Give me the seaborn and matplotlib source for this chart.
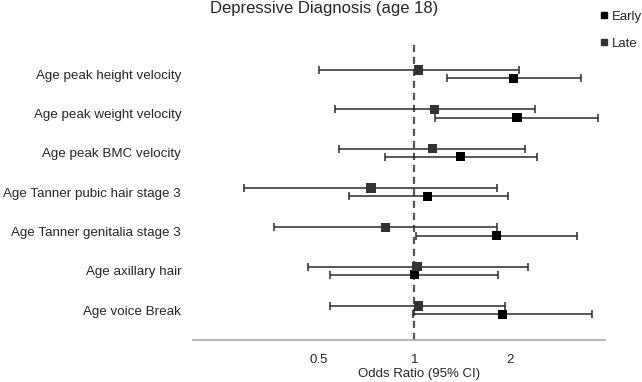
import numpy as np
import pandas as pd
import matplotlib
matplotlib.use("Agg")
import matplotlib.pyplot as plt
from matplotlib.lines import Line2D
import seaborn as sns

outcomes = [
    "Age peak height velocity",
    "Age peak weight velocity",
    "Age peak BMC velocity",
    "Age Tanner pubic hair stage 3",
    "Age Tanner genitalia stage 3",
    "Age axillary hair",
    "Age voice Break",
]
early_or = [2.06, 2.11, 1.40, 1.10, 1.82, 1.00, 1.90]
early_lo = [1.27, 1.16, 0.81, 0.62, 1.01, 0.54, 0.99]
early_hi = [3.35, 3.81, 2.44, 1.98, 3.27, 1.84, 3.65]
late_or = [1.03, 1.16, 1.14, 0.73, 0.81, 1.02, 1.03]
late_lo = [0.50, 0.56, 0.58, 0.29, 0.36, 0.46, 0.54]
late_hi = [2.14, 2.40, 2.24, 1.82, 1.82, 2.29, 1.94]
x_ticks = [0.5, 1, 2]
x_ticklabels = ["0.5", "1", "2"]

sns.set_style("white")
plt.rcParams["font.family"] = ["Liberation Sans", "DejaVu Sans"]

rows = np.arange(len(outcomes))
df = pd.concat([
    pd.DataFrame({"group": "Early", "row": rows + 0.105, "or": early_or,
                  "lo": early_lo, "hi": early_hi}),
    pd.DataFrame({"group": "Late", "row": rows - 0.105, "or": late_or,
                  "lo": late_lo, "hi": late_hi}),
])
colors = {"Early": "#000000", "Late": "#333333"}

fig = plt.figure(figsize=(6.42, 3.82), dpi=100)
ax = fig.add_axes([0.3006, 0.11, 0.6418, 0.7774])

for g, d in df.groupby("group"):
    ax.errorbar(d["or"], d["row"], xerr=[d["or"] - d["lo"], d["hi"] - d["or"]],
                fmt="none", ecolor="#2a2a2a", elinewidth=1.1, capsize=3,
                capthick=1.1, zorder=2)

sns.scatterplot(data=df, x="or", y="row", hue="group", palette=colors,
                marker="s", s=44, linewidth=0, legend=False, ax=ax, zorder=3)

ax.axvline(1, color="#555555", lw=1.6, ls=(0, (3.2, 2.2)), zorder=1)

ax.set_xscale("log")
ax.set_xlim(0.2, 4.0)
ax.set_xticks(x_ticks)
ax.set_xticklabels(x_ticklabels, fontsize=9.5)
ax.minorticks_off()
ax.set_yticks(rows)
ax.set_yticklabels(outcomes, fontsize=9.6)
ax.set_ylim(6.76, -0.79)
ax.tick_params(axis="y", length=0, pad=8.5)
ax.tick_params(axis="x", length=0, pad=10)
ax.set_xlabel("Odds Ratio (95% CI)", fontsize=9.5)
ax.xaxis.set_label_coords(0.549, -0.093)
ax.set_ylabel("")

for s in ["top", "right", "left"]:
    ax.spines[s].set_visible(False)
ax.spines["bottom"].set_color("#aaaaaa")
ax.spines["bottom"].set_linewidth(1.2)

fig.text(0.505, 0.966, "Depressive Diagnosis (age 18)", fontsize=12,
         ha="center", va="baseline")

handles = [Line2D([], [], marker="s", color=colors[k], linestyle="none",
                  markersize=4.5) for k in ["Early", "Late"]]
fig.legend(handles, ["Early", "Late"], loc="upper left",
           bbox_to_anchor=(0.935, 0.972), frameon=False, fontsize=9.5,
           handlelength=0.6, handletextpad=0.3, labelspacing=1.1,
           borderpad=0, borderaxespad=0)

fig.savefig("out.png", dpi=100)
